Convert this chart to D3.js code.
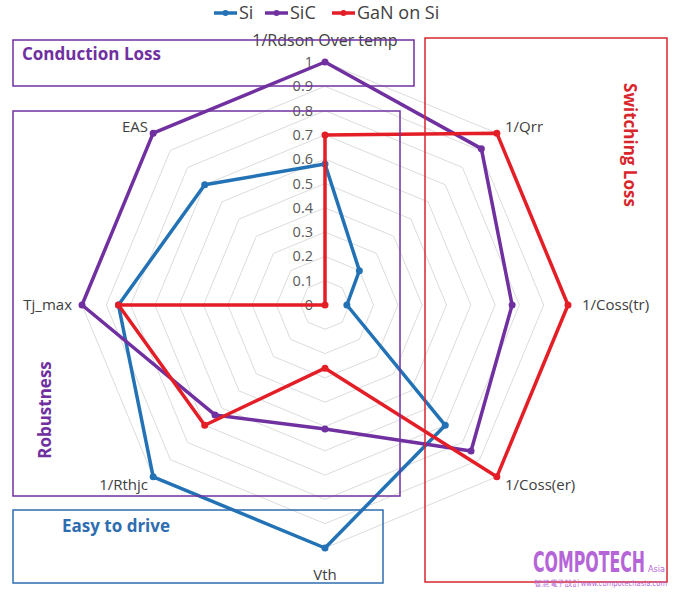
<!DOCTYPE html>
<html><head><meta charset="utf-8">
<script src="https://cdn.jsdelivr.net/npm/d3@7"></script>
<style>body{margin:0;background:#fff}svg{display:block}</style>
</head><body>
<svg id="c" width="674" height="594"></svg>
<script>
const axes = ["1/Rdson Over temp","1/Qrr","1/Coss(tr)","1/Coss(er)","Vth","1/Rthjc","Tj_max","EAS"];
const seriesNames = ["Si","SiC","GaN on Si"];
const siValues  = [0.58, 0.2, 0.09, 0.7, 1.0, 1.0, 0.85, 0.7];
const sicValues = [1.0, 0.91, 0.77, 0.85, 0.51, 0.64, 1.0, 1.0];
const ganValues = [0.7, 1.0, 1.0, 1.0, 0.26, 0.7, 0.85, 0];
const tickValues = [0,0.1,0.2,0.3,0.4,0.5,0.6,0.7,0.8,0.9,1];
const tickLabels = ["0","0.1","0.2","0.3","0.4","0.5","0.6","0.7","0.8","0.9","1"];

const colors = {"Si":"#2272B5","SiC":"#7030A0","GaN on Si":"#E41E26"};
const svg = d3.select("#c");
const cx = 325, cy = 305, R = 243;
const font = "'Open Sans', sans-serif";
const r = d3.scaleLinear().domain([0,1]).range([0,R]);
const ang = d3.scaleLinear().domain([0, axes.length]).range([0, 2*Math.PI]);
const g = svg.append("g").attr("transform",`translate(${cx},${cy})`);

// grid octagons
tickValues.slice(1).forEach(t=>{
  g.append("path")
   .attr("d", d3.lineRadial().angle((d,i)=>ang(i)).radius(()=>r(t)).curve(d3.curveLinearClosed)(axes))
   .attr("fill","none").attr("stroke","#dcdcdc").attr("stroke-width",1);
});

// tick labels
tickValues.forEach((t,i)=>{
  g.append("text").attr("x",-12).attr("y",-r(t)).attr("dy","0.35em")
   .attr("text-anchor","end").attr("font-family",font).attr("font-size",14.5)
   .attr("fill","#595959").text(tickLabels[i]);
});

// boxes
function box(x,y,w,h,c){svg.append("rect").attr("x",x).attr("y",y).attr("width",w).attr("height",h)
  .attr("fill","none").attr("stroke",c).attr("stroke-width",1.5);}
box(13,40,401,46,"#7030A0");
box(13,111,387,385,"#7030A0");
box(13,510,370,73,"#2E6DB0");
box(425,38,242,544,"#D9262C");

// series
const data = [siValues, sicValues, ganValues];
data.forEach((vals,si)=>{
  const c = colors[seriesNames[si]];
  g.append("path")
   .attr("d", d3.lineRadial().angle((d,i)=>ang(i)).radius(d=>r(d)).curve(d3.curveLinearClosed)(vals))
   .attr("fill","none").attr("stroke",c).attr("stroke-width",3.5).attr("stroke-linejoin","round");
  vals.forEach((v,i)=>{
    g.append("circle").attr("cx", r(v)*Math.sin(ang(i))).attr("cy", -r(v)*Math.cos(ang(i)))
     .attr("r",3.5).attr("fill",c);
  });
});

// axis labels
const lab = [
  {dx:0, dy:-265, a:"middle", bg:true, fs:16},
  {dx:180, dy:-178, a:"start"},
  {dx:257, dy:0, a:"start"},
  {dx:180, dy:180, a:"start"},
  {dx:0, dy:270, a:"middle"},
  {dx:-177, dy:180, a:"end"},
  {dx:-253, dy:0, a:"end"},
  {dx:-177, dy:-178, a:"end"}
];
axes.forEach((name,i)=>{
  const L = lab[i];
  const t = g.append("text").attr("x",L.dx).attr("y",L.dy).attr("dy","0.35em")
   .attr("text-anchor",L.a).attr("font-family",font).attr("font-size",L.fs||15)
   .attr("fill","#404040").text(name);
  if(L.bg){
    const b = t.node().getBBox();
    g.insert("rect", "text").attr("x",b.x-4).attr("y",b.y).attr("width",b.width+8).attr("height",b.height).attr("fill","#fff");
    t.raise();
  }
});

// group titles
svg.append("text").attr("x",22).attr("y",60).attr("font-family",font).attr("font-weight","bold")
  .attr("font-size",17).attr("fill","#7030A0").text("Conduction Loss");
svg.append("text").attr("transform","translate(51,410) rotate(-90)").attr("text-anchor","middle")
  .attr("font-family",font).attr("font-weight","bold").attr("font-size",17).attr("fill","#7030A0").text("Robustness");
svg.append("text").attr("x",62).attr("y",532).attr("font-family",font).attr("font-weight","bold")
  .attr("font-size",17).attr("fill","#2E6DB0").text("Easy to drive");
svg.append("text").attr("transform","translate(624,145) rotate(90)").attr("text-anchor","middle")
  .attr("font-family",font).attr("font-weight","bold").attr("font-size",17).attr("fill","#D9262C").text("Switching Loss");

// legend
const leg = svg.append("g");
const legX = [214, 265, 332];
seriesNames.forEach((n,i)=>{
  const c = colors[n], x = legX[i];
  leg.append("line").attr("x1",x).attr("x2",x+23).attr("y1",13).attr("y2",13).attr("stroke",c).attr("stroke-width",3.5);
  leg.append("circle").attr("cx",x+11.5).attr("cy",13).attr("r",3).attr("fill",c);
  leg.append("text").attr("x",x+25).attr("y",13).attr("dy","0.35em").attr("font-family",font)
   .attr("font-size",18).attr("fill","#404040").text(n);
});

// watermark
const wm = svg.append("g");
const w1 = wm.append("text").attr("font-family","'DejaVu Sans Condensed', 'DejaVu Sans', sans-serif")
  .attr("font-weight","bold").attr("font-size",20).attr("fill","#B565D8").text("COMPOTECH");
const l1 = w1.node().getComputedTextLength();
w1.attr("transform",`translate(533,572) scale(${112/l1},1.4)`);
wm.append("text").attr("x",648).attr("y",572).attr("font-family","'DejaVu Sans Condensed', sans-serif")
  .attr("font-size",9).attr("fill","#B565D8").text("Asia");
const w2 = wm.append("text").attr("font-family","'DejaVu Sans Condensed', sans-serif")
  .attr("font-size",8).attr("fill","#B565D8").text("智慧電子設計www.compotechasia.com");
const l2 = w2.node().getComputedTextLength();
w2.attr("transform",`translate(534,586) scale(${Math.min(1,132/l2)},1)`);
</script>
</body></html>
